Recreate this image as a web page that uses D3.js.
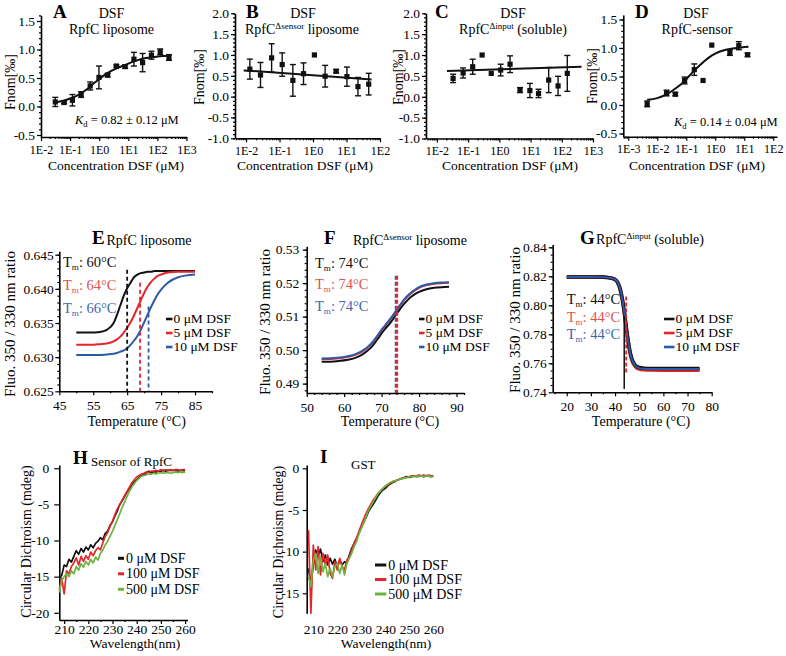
<!DOCTYPE html>
<html><head><meta charset="utf-8">
<script src="https://cdn.jsdelivr.net/npm/d3@7/dist/d3.min.js"></script>
<style>html,body{margin:0;padding:0;background:#fff;}svg{display:block;}</style>
</head>
<body><svg id="chart" width="786" height="656"></svg>
<script>
// ================= DATA =================
// Row 1: MST binding (Fnom vs DSF concentration)
const concA = [0.031,0.062,0.12,0.24,0.49,0.98,1.95,3.9,7.8,15.6,31,62.5,125,250];
const fnomA = [0.08,0.07,0.11,0.21,0.36,0.51,0.55,0.71,0.70,0.83,0.77,0.90,0.96,0.86];
const errA  = [0.08,0.02,0.10,0.05,0.07,0.20,0.03,0.02,0.03,0.12,0.16,0.07,0.05,0.05];
const fitConcA = [0.03,0.06,0.1,0.2,0.4,0.7,1,1.5,2.5,4,7,12,20,40,80,150,280];
const fitA     = [0.07,0.10,0.14,0.21,0.31,0.42,0.48,0.55,0.62,0.67,0.72,0.77,0.81,0.85,0.87,0.885,0.89];

const concB = [0.013,0.027,0.058,0.12,0.25,0.52,1.1,2.3,4.9,10.3,22,46];
const fnomB = [0.66,0.52,0.93,0.77,0.39,0.55,1.0,0.49,0.61,0.48,0.24,0.30];
const errB  = [0.24,0.30,0.34,0.28,0.38,0.26,0,0.26,0.04,0.23,0.22,0.26];
const fitConcB = [0.0085,56];
const fitB     = [0.63,0.41];

const concC = [0.033,0.069,0.14,0.28,0.55,1.1,2.2,4.6,9.5,18,38,76,150];
const fnomC = [0.44,0.57,0.72,1.0,0.56,0.64,0.78,0.16,0.15,0.08,0.40,0.26,0.56];
const errC  = [0.10,0.12,0.18,0,0,0.14,0.20,0.06,0.17,0.10,0.30,0.23,0.43];
const fitConcC = [0.021,430];
const fitC     = [0.62,0.72];

const concD = [0.0045,0.021,0.042,0.088,0.19,0.38,0.76,3.2,6.5,13];
const fnomD = [0.02,0.21,0.19,0.43,0.62,0.43,1.05,0.92,1.04,0.88];
const errD  = [0.05,0.05,0.03,0.06,0.10,0,0,0.05,0.07,0.03];
const fitConcD = [0.0045,0.01,0.02,0.04,0.08,0.15,0.3,0.6,1,2,4,8,14];
const fitD     = [0.09,0.12,0.18,0.28,0.40,0.55,0.70,0.83,0.90,0.96,0.99,1.01,1.02];

const logTicksA = [0.01,0.1,1,10,100,1000];
const logTicksB = [0.01,0.1,1,10,100];
const logTicksC = [0.01,0.1,1,10,100,1000];
const logTicksD = [0.001,0.01,0.1,1,10,100];

// Row 2: thermal unfolding (350/330 ratio)
const tempE  = [50,54,57,59,61,62,63,64,65,66,67,68,69,70,71,72,73,74,75,77,80,85];
const e0DSF  = [.6336,.6336,.6337,.6340,.6350,.6362,.6376,.6390,.6401,.6409,.6417,.6421,.6423,.6424,.6425,.6425,.6426,.6426,.6426,.6426,.6426,.6426];
const e5DSF  = [.6318,.6318,.6319,.6320,.6323,.6326,.6330,.6336,.6343,.6351,.6361,.6372,.6383,.6394,.6403,.6410,.6415,.6419,.6421,.6424,.6425,.6425];
const e10DSF = [.6303,.6303,.6303,.6304,.6305,.6306,.6308,.6310,.6313,.6318,.6324,.6331,.6340,.6351,.6362,.6373,.6383,.6392,.6399,.6409,.6417,.6421];
const tmLineE = [65,68.8,71.3];
const tmTopE  = [0.6428,0.6409,0.6374];

const tempF  = [54,58,61,63,65,67,68,69,70,71,72,73,74,75,76,77,78,79,80,82,84,86,88];
const f0DSF  = [.4965,.4967,.4971,.4977,.4988,.5006,.5019,.5034,.5050,.5064,.5077,.5092,.5108,.5124,.5138,.5150,.5160,.5168,.5174,.5182,.5186,.5188,.5189];
const f5DSF  = [.4973,.4975,.4980,.4986,.4997,.5015,.5028,.5043,.5059,.5073,.5087,.5102,.5118,.5134,.5149,.5161,.5171,.5179,.5186,.5194,.5198,.5200,.5201];
const f10DSF = [.4975,.4977,.4982,.4988,.4999,.5017,.5030,.5045,.5061,.5075,.5089,.5104,.5120,.5136,.5151,.5163,.5173,.5181,.5188,.5196,.5200,.5202,.5203];
const tmLineF = [74];
const tmTopF  = [0.5222];

const tempG  = [20,30,35,37,38,39,40,41,42,43,44,45,46,47,48,49,50,52,55,60,75];
const g0DSF  = [.8195,.8195,.8194,.8192,.8189,.8185,.8179,.8160,.8120,.8045,.7932,.7804,.7697,.7629,.7596,.7578,.7571,.7566,.7564,.7564,.7564];
const g5DSF  = [.8195,.8195,.8194,.8192,.8189,.8185,.8179,.8160,.8118,.8042,.7928,.7798,.7689,.7620,.7586,.7568,.7561,.7556,.7554,.7553,.7553];
const g10DSF = [.8195,.8195,.8194,.8192,.8189,.8185,.8179,.8160,.8119,.8044,.7930,.7801,.7693,.7625,.7592,.7574,.7567,.7562,.7560,.7560,.7560];

// Row 3: circular dichroism spectra
const wavelengths = [208,209,210,211,212,213,214,215,216,217,218,219,220,221,222,223,224,225,226,227,228,229,230,231,232,233,234,235,236,237,238,239,240,241,242,243,244,245,246,247,248,249,250,251,252,253,254,255,256,257,258,259,260];
const h0DSF   = [-15.2,-14.8,-13.4,-13.6,-12.6,-13.0,-12.2,-11.4,-11.9,-11.1,-11.6,-10.9,-11.3,-10.6,-11.0,-10.4,-10.1,-9.6,-9.9,-9.0,-8.7,-7.9,-7.4,-6.6,-5.9,-5.0,-4.5,-3.9,-3.3,-2.8,-2.4,-1.9,-1.6,-1.3,-1.0,-0.9,-0.6,-0.4,-0.7,-0.5,-0.5,-0.4,-0.4,-0.3,-0.4,-0.3,-0.3,-0.3,-0.2,-0.4,-0.3,-0.3,-0.4];
const h100DSF = [-16.8,-15.2,-17.4,-14.2,-14.6,-13.6,-13.1,-12.4,-13.4,-12.2,-12.9,-12.1,-12.6,-11.6,-12.1,-11.4,-11.0,-11.3,-10.3,-9.4,-8.9,-8.0,-7.3,-6.4,-5.6,-5.1,-4.4,-3.8,-3.2,-2.6,-2.0,-1.6,-1.2,-1.0,-0.8,-0.7,-0.5,-0.6,-0.4,-0.4,-0.3,-0.4,-0.2,-0.3,-0.2,-0.3,-0.2,-0.3,-0.2,-0.2,-0.3,-0.2,-0.2];
const h500DSF = [-17.2,-15.6,-15.0,-14.6,-15.0,-14.2,-14.6,-13.6,-14.1,-13.2,-13.7,-12.9,-13.4,-12.6,-13.1,-12.3,-12.7,-11.8,-11.3,-10.6,-10.1,-9.4,-8.7,-7.9,-7.1,-6.3,-5.4,-4.7,-3.9,-3.2,-2.6,-2.1,-1.7,-1.4,-1.1,-1.0,-0.9,-0.8,-0.8,-0.7,-0.8,-0.7,-0.6,-0.7,-0.6,-0.6,-0.7,-0.6,-0.5,-0.6,-0.5,-0.6,-0.5];
const i0DSF   = [-12.0,-14.0,-11.5,-9.8,-10.5,-9.7,-11.2,-10.4,-11.6,-10.8,-11.5,-10.9,-11.8,-11.0,-11.6,-11.2,-11.4,-10.4,-9.6,-9.0,-8.4,-7.8,-7.1,-6.5,-5.9,-5.2,-4.7,-4.3,-3.8,-3.3,-2.9,-2.6,-2.4,-2.1,-1.9,-1.7,-1.6,-1.4,-1.3,-1.2,-1.1,-1.0,-1.1,-1.0,-0.9,-1.0,-0.9,-0.9,-1.0,-0.9,-0.9,-1.0,-0.9];
const i100DSF = [-7.4,-17.4,-9.2,-12.2,-9.4,-12.8,-10.2,-11.6,-10.4,-12.6,-13.2,-11.2,-12.2,-10.8,-11.8,-12.2,-11.0,-10.6,-9.8,-9.0,-8.4,-7.6,-6.8,-6.1,-5.4,-4.8,-4.3,-3.8,-3.4,-3.0,-2.7,-2.4,-2.2,-2.0,-1.8,-1.6,-1.5,-1.4,-1.3,-1.2,-1.1,-1.1,-1.0,-0.9,-0.9,-0.9,-0.8,-0.9,-0.8,-0.9,-0.8,-0.9,-0.9];
const i500DSF = [-13.0,-14.2,-11.0,-10.2,-12.6,-10.6,-12.4,-11.4,-13.0,-12.0,-13.0,-11.8,-11.4,-12.6,-11.6,-12.8,-11.4,-10.8,-10.2,-9.4,-8.8,-7.9,-7.2,-6.5,-5.8,-5.0,-4.5,-4.0,-3.5,-3.0,-2.7,-2.4,-2.1,-1.9,-1.7,-1.6,-1.5,-1.4,-1.3,-1.2,-1.2,-1.1,-1.0,-1.0,-1.0,-0.9,-1.0,-0.9,-1.0,-0.9,-0.9,-1.0,-1.0];

const legendRow2 = ['0 \u03BCM DSF','5 \u03BCM DSF','10 \u03BCM DSF'];
const legendRow3 = ['0 \u03BCM DSF','100 \u03BCM DSF','500 \u03BCM DSF'];

// ================= DRAWING =================
const svg = d3.select('#chart');
let layer = svg;
const SERIF = '"Liberation Serif","Times New Roman",Times,serif';
const COL = {black:'#111111', red:'#e3262d', blue:'#2b5aa6', green:'#6db33f', redTxt:'#e05252', blueTxt:'#3d69b1'};

function txt(x, y, parts, o = {}) {
  const t = layer.append('text').attr('x', x).attr('y', y)
    .attr('font-family', SERIF).attr('font-size', o.size || 14)
    .attr('fill', o.fill || '#000').attr('text-anchor', o.anchor || 'start');
  if (o.weight) t.attr('font-weight', o.weight);
  if (o.rotate) t.attr('transform', `rotate(${o.rotate},${x},${y})`);
  if (typeof parts === 'string') { t.text(parts); return t; }
  let shift = 0;
  parts.forEach(p => {
    const s = t.append('tspan').text(p.t);
    const dy = (p.dy || 0) - shift;
    if (dy) s.attr('dy', dy);
    shift = p.dy || 0;
    if (p.size) s.attr('font-size', p.size);
    if (p.italic) s.attr('font-style', 'italic');
  });
  return t;
}

function styleAxis(g, fs) {
  g.attr('font-family', SERIF).attr('font-size', fs);
  g.selectAll('.domain').attr('stroke', '#000').attr('stroke-width', 1.6);
  g.selectAll('.tick line').attr('stroke', '#000').attr('stroke-width', 1.2);
  g.selectAll('.tick text').attr('fill', '#000');
}

function axes(x, y, o) {
  const yb = y.range()[0], x0 = x.range()[0];
  const gx = layer.append('g').attr('transform', `translate(0,${yb})`)
    .call(d3.axisBottom(x).tickValues(o.xMajor).tickFormat(o.xFmt)
      .tickSizeInner(o.xTick ?? 4).tickSizeOuter(0).tickPadding(o.xPad ?? 5));
  styleAxis(gx, o.xFs || 13.5);
  if (o.noXLine) gx.select('.domain').remove();
  if (o.xMinor) {
    const m = layer.append('g').attr('transform', `translate(0,${yb})`)
      .call(d3.axisBottom(x).tickValues(o.xMinor).tickFormat(() => '').tickSizeInner(2).tickSizeOuter(0));
    m.select('.domain').remove(); m.selectAll('text').remove(); styleAxis(m, 10);
  }
  const gy = layer.append('g').attr('transform', `translate(${x0},0)`)
    .call(d3.axisLeft(y).tickValues(o.yMajor).tickFormat(o.yFmt)
      .tickSizeInner(o.yTick ?? 4).tickSizeOuter(0).tickPadding(o.yPad ?? 2));
  styleAxis(gy, o.yFs || 13.5);
  if (o.yMinor) {
    const m = layer.append('g').attr('transform', `translate(${x0},0)`)
      .call(d3.axisLeft(y).tickValues(o.yMinor).tickFormat(() => '').tickSizeInner(2).tickSizeOuter(0));
    m.select('.domain').remove(); m.selectAll('text').remove(); styleAxis(m, 10);
  }
}

const logMinor = (lo, hi) => { const a = []; for (let d = lo; d <= hi; d++) for (let k = 2; k <= 9; k++) a.push(k * Math.pow(10, d)); return a; };
const stepTicks = (a, b, s) => { const r = []; for (let v = a; v <= b + 1e-9; v += s) r.push(+v.toFixed(6)); return r; };
const fmtE = d => '1E' + Math.round(Math.log10(d));

// ---------- Row 1 ----------
function mstPanel(cfg) {
  const x = d3.scaleLog().domain(cfg.xDom).range(cfg.xRange);
  const y = d3.scaleLinear().domain(cfg.yDom).range(cfg.yRange);
  axes(x, y, {
    xMajor: cfg.xTicks, xFmt: fmtE, xMinor: logMinor(cfg.minorDec[0], cfg.minorDec[1]).filter(v => v > cfg.xDom[0] && v < cfg.xDom[1]),
    xPad: 4, xFs: 12,
    yMajor: cfg.yTicks, yFmt: d => d.toFixed(1), yMinor: stepTicks(cfg.yTicks[0], cfg.yDom[1], 0.1), yPad: 2
  });
  const fitLine = d3.line().x(d => x(d[0])).y(d => y(d[1])).curve(d3.curveMonotoneX);
  layer.append('path').datum(d3.zip(cfg.fitX, cfg.fitY)).attr('d', fitLine)
    .attr('fill', 'none').attr('stroke', '#111').attr('stroke-width', 2);
  const pts = d3.zip(cfg.conc, cfg.val, cfg.err);
  const g = layer.append('g').attr('stroke', '#111').attr('stroke-width', 1.4);
  pts.filter(p => p[2] > 0).forEach(p => {
    const cx = x(p[0]), y1 = y(p[1] - p[2]), y2 = y(p[1] + p[2]);
    g.append('line').attr('x1', cx).attr('x2', cx).attr('y1', y1).attr('y2', y2);
    g.append('line').attr('x1', cx - 3).attr('x2', cx + 3).attr('y1', y1).attr('y2', y1);
    g.append('line').attr('x1', cx - 3).attr('x2', cx + 3).attr('y1', y2).attr('y2', y2);
  });
  layer.append('g').selectAll('rect').data(pts).join('rect')
    .attr('x', d => x(d[0]) - 2.6).attr('y', d => y(d[1]) - 2.6).attr('width', 5.2).attr('height', 5.2).attr('fill', '#111');
}

mstPanel({conc: concA, val: fnomA, err: errA, fitX: fitConcA, fitY: fitA,
  xDom: [0.01, 1000], xRange: [41, 186.5], xTicks: logTicksA, minorDec: [-2, 2],
  yDom: [-0.535, 1.6], yRange: [137, 15.3], yTicks: [-0.5, 0, 0.5, 1, 1.5]});
mstPanel({conc: concB, val: fnomB, err: errB, fitX: fitConcB, fitY: fitB,
  xDom: [Math.pow(10, -2.33), 100], xRange: [235, 380], xTicks: logTicksB, minorDec: [-3, 1],
  yDom: [-1, 2], yRange: [138.3, 13.3], yTicks: [-1, -0.5, 0, 0.5, 1, 1.5, 2]});
mstPanel({conc: concC, val: fnomC, err: errC, fitX: fitConcC, fitY: fitC,
  xDom: [Math.pow(10, -2.35), 1000], xRange: [426, 593], xTicks: logTicksC, minorDec: [-3, 2],
  yDom: [-1, 2], yRange: [138.5, 13.3], yTicks: [-1, -0.5, 0, 0.5, 1, 1.5, 2]});
mstPanel({conc: concD, val: fnomD, err: errD, fitX: fitConcD, fitY: fitD,
  xDom: [Math.pow(10, -3.17), Math.pow(10, 2.13)], xRange: [623.3, 777], xTicks: logTicksD, minorDec: [-4, 2],
  yDom: [-0.556, 1.58], yRange: [136.7, 14.9], yTicks: [-0.5, 0, 0.5, 1, 1.5]});

// Row 1 texts
[[53, 'A'], [246, 'B'], [435, 'C'], [635, 'D']].forEach(([px, L]) => txt(px, 18, L, {size: 19, weight: 'bold'}));
txt(111.5, 18, 'DSF', {anchor: 'middle'});
txt(111.5, 34, 'RpfC liposome', {anchor: 'middle'});
txt(303, 18, 'DSF', {anchor: 'middle'});
txt(302, 34, [{t: 'RpfC'}, {t: '\u0394sensor', size: 9, dy: -5}, {t: ' liposome'}], {anchor: 'middle'});
txt(513, 18, 'DSF', {anchor: 'middle'});
txt(513, 34, [{t: 'RpfC'}, {t: '\u0394input', size: 9, dy: -5}, {t: ' (soluble)'}], {anchor: 'middle'});
txt(696, 18, 'DSF', {anchor: 'middle'});
txt(697, 34, 'RpfC-sensor', {anchor: 'middle'});
txt(75, 124, [{t: 'K', italic: true}, {t: 'd', size: 8.5, dy: 3}, {t: ' = 0.82 \u00B1 0.12 \u03BCM'}], {size: 12.5});
txt(674, 126, [{t: 'K', italic: true}, {t: 'd', size: 8.5, dy: 3}, {t: ' = 0.14 \u00B1 0.04 \u03BCM'}], {size: 12.5});
[[14.5, 82], [204, 77], [402.5, 77], [596.5, 76]].forEach(([px, py]) => txt(px, py, 'Fnom[\u2030]', {anchor: 'middle', rotate: -90}));
[116, 305, 510, 697].forEach(px => txt(px, 170, 'Concentration DSF (\u03BCM)', {anchor: 'middle', size: 13.5}));

// ---------- Row 2 (shifted block) ----------
layer = svg.append('g').attr('transform', 'translate(0,18)');
function meltPanel(cfg) {
  const x = d3.scaleLinear().domain(cfg.xDom).range(cfg.xRange);
  const y = d3.scaleLinear().domain(cfg.yDom).range(cfg.yRange);
  axes(x, y, {xMajor: cfg.xTicks, xFmt: d => String(d), xMinor: cfg.xMinor, xPad: 5,
    yMajor: cfg.yTicks, yFmt: d => d.toFixed(cfg.yDec), yMinor: cfg.yMinor, yPad: cfg.yPad});
  const line = d3.line().x(d => x(d[0])).y(d => y(d[1])).curve(d3.curveMonotoneX);
  cfg.series.forEach(s => layer.append('path').datum(d3.zip(cfg.t, s.v)).attr('d', line)
    .attr('fill', 'none').attr('stroke', s.c).attr('stroke-width', s.w || 2));
  cfg.vlines.forEach(v => layer.append('line').attr('x1', x(v.t)).attr('x2', x(v.t))
    .attr('y1', y(v.top)).attr('y2', y(v.bot ?? cfg.yDom[0]))
    .attr('stroke', v.c).attr('stroke-width', v.w || 1.8).attr('stroke-dasharray', v.dash || null));
}

meltPanel({t: tempE, xDom: [45, 90], xRange: [59.3, 212], xTicks: [45, 55, 65, 75, 85], xMinor: [50, 60, 70, 80, 90],
  yDom: [0.625, 0.6455], yRange: [373.3, 233.3], yTicks: [0.625, 0.63, 0.635, 0.64, 0.645], yDec: 3,
  yMinor: stepTicks(0.626, 0.645, 0.001), yPad: 1.5,
  series: [{v: e0DSF, c: COL.black}, {v: e5DSF, c: COL.red}, {v: e10DSF, c: COL.blue}],
  vlines: [{t: tmLineE[0], top: tmTopE[0], c: COL.black, dash: '4,3'}, {t: tmLineE[1], top: tmTopE[1], c: COL.red, dash: '4,3'}, {t: tmLineE[2], top: tmTopE[2], c: COL.blue, dash: '4,3'}]});

meltPanel({t: tempF, xDom: [50, 92], xRange: [306.7, 464], xTicks: [50, 60, 70, 80, 90], xMinor: stepTicks(52, 92, 2).filter(v => v % 10 !== 0),
  yDom: [0.4872, 0.531], yRange: [375, 228.3], yTicks: [0.49, 0.5, 0.51, 0.52, 0.53], yDec: 2,
  yMinor: stepTicks(0.488, 0.53, 0.002), yPad: 3.4,
  series: [{v: f0DSF, c: COL.black}, {v: f5DSF, c: COL.red}, {v: f10DSF, c: COL.blue}],
  vlines: [{t: tmLineF[0] - 0.25, top: tmTopF[0], c: COL.blue, dash: '4,2'}, {t: tmLineF[0] + 0.15, top: tmTopF[0], c: COL.red, dash: '4,2', w: 2}]});

meltPanel({t: tempG, xDom: [14.2, 80], xRange: [552.7, 711.7], xTicks: [20, 30, 40, 50, 60, 70, 80], xMinor: [15, 25, 35, 45, 55, 65, 75],
  yDom: [0.74, 0.842], yRange: [374.3, 226.4], yTicks: [0.74, 0.76, 0.78, 0.8, 0.82, 0.84], yDec: 2,
  yMinor: stepTicks(0.745, 0.84, 0.005), yPad: 2,
  series: [{v: g5DSF, c: COL.red, w: 3.6}, {v: g0DSF, c: COL.black, w: 3.6}, {v: g10DSF, c: COL.blue, w: 2}],
  vlines: [{t: 43.8, top: 0.7926, bot: 0.7422, c: COL.black, w: 1.5}, {t: 44.6, top: 0.806, bot: 0.753, c: COL.red, dash: '4,2', w: 1.8}]});

[[92, 'E'], [324, 'F'], [580, 'G']].forEach(([px, L]) => txt(px, 226, L, {size: 19, weight: 'bold'}));
txt(149, 227, 'RpfC liposome', {anchor: 'middle'});
txt(410, 227, [{t: 'RpfC'}, {t: '\u0394sensor', size: 9, dy: -5}, {t: ' liposome'}], {anchor: 'middle'});
txt(650, 226, [{t: 'RpfC'}, {t: '\u0394input', size: 9, dy: -5}, {t: '  (soluble)'}], {anchor: 'middle'});
[[14.5, 306], [269.5, 304], [519.5, 302]].forEach(([px, py]) => txt(px, py, 'Fluo. 350 / 330 nm ratio', {anchor: 'middle', rotate: -90, size: 15}));
[[136.7, 408], [390, 408], [641, 408]].forEach(([px, py]) => txt(px, py, 'Temperature (\u00B0C)', {anchor: 'middle'}));
const tmCols = [COL.black, COL.redTxt, COL.blueTxt];
const tmE = ['60', '64', '66'], tmF = ['74', '74', '74'], tmG = ['44', '44', '44'];
[[63, [249, 272, 295], tmE], [315, [249.5, 271, 292.7], tmF], [566.7, [286, 303.5, 321], tmG]].forEach(([px, ys, vals]) =>
  vals.forEach((v, i) => txt(px, ys[i], [{t: 'T'}, {t: 'm', size: 9, dy: 3}, {t: ': ' + v + '\u00B0C'}], {fill: tmCols[i], size: 14.5})));
const legCols2 = [COL.black, COL.red, COL.blue];
[[166, 173.5], [419, 425.5], [664, 675.5]].forEach(([lx, tx]) => {
  legendRow2.forEach((s, i) => {
    const yy = 301 + i * 14;
    layer.append('line').attr('x1', lx).attr('x2', tx - 1).attr('y1', yy).attr('y2', yy).attr('stroke', legCols2[i]).attr('stroke-width', 2.6);
    txt(tx, yy + 4.3, s, {size: 13.5});
  });
});

// ---------- Row 3 ----------
layer = svg;
function cdPanel(cfg) {
  const x = d3.scaleLinear().domain(cfg.xDom).range(cfg.xRange);
  const y = d3.scaleLinear().domain(cfg.yDom).range(cfg.yRange);
  axes(x, y, {xMajor: [210, 220, 230, 240, 250, 260], xFmt: d => String(d), xMinor: cfg.noX ? null : [215, 225, 235, 245, 255],
    xTick: cfg.noX ? 0 : 4, xPad: cfg.xPad, noXLine: cfg.noX,
    yMajor: cfg.yTicks, yFmt: d => String(d), yTick: cfg.yTick, yPad: cfg.yPad});
  const line = d3.line().x(d => x(d[0])).y(d => y(d[1]));
  cfg.series.forEach(s => layer.append('path').datum(d3.zip(wavelengths, s.v)).attr('d', line)
    .attr('fill', 'none').attr('stroke', s.c).attr('stroke-width', 1.7).attr('stroke-linejoin', 'round'));
}
cdPanel({xDom: [208, 261], xRange: [59.3, 187.5], yDom: [-21, 0.45], yRange: [620, 465], yTicks: [-20, -15, -10, -5, 0],
  xPad: 0.5, yTick: 5, yPad: 5,
  series: [{v: h0DSF, c: COL.black}, {v: h100DSF, c: COL.red}, {v: h500DSF, c: COL.green}]});
cdPanel({xDom: [207.25, 261], xRange: [306.7, 435.7], yDom: [-17.4, 0.4], yRange: [613.3, 465], yTicks: [-15, -10, -5, 0],
  xPad: 11, noX: true, yTick: 4, yPad: 3.4,
  series: [{v: i0DSF, c: COL.black}, {v: i100DSF, c: COL.red}, {v: i500DSF, c: COL.green}]});

txt(73, 464, 'H', {size: 19, weight: 'bold'});
txt(91, 466, 'Sensor of RpfC', {size: 13});
txt(320, 463, 'I', {size: 19, weight: 'bold'});
txt(351, 469, 'GST', {size: 13});
txt(31, 541.5, 'Circular Dichroism (mdeg)', {anchor: 'middle', rotate: -90});
txt(283, 542, 'Circular Dichroism (mdeg)', {anchor: 'middle', rotate: -90});
txt(135, 648, 'Wavelength(nm)', {anchor: 'middle', size: 13.5});
txt(386, 648, 'Wavelength(nm)', {anchor: 'middle', size: 13.5});
const legCols3 = [COL.black, COL.red, COL.green];
[[118, 126, 558.3, 15.5], [375, 388.3, 565, 14.5]].forEach(([lx, tx, y0, dy]) => {
  legendRow3.forEach((s, i) => {
    const yy = y0 + i * dy;
    layer.append('line').attr('x1', lx).attr('x2', tx - 2).attr('y1', yy).attr('y2', yy).attr('stroke', legCols3[i]).attr('stroke-width', 3);
    txt(tx, yy + 4.5, s, {size: 14});
  });
});
</script>
</body></html>
